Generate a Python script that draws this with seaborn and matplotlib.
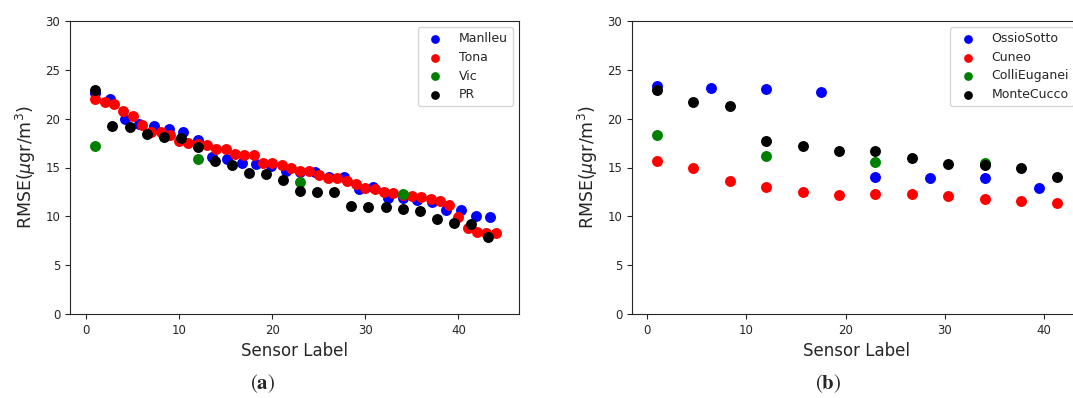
import numpy as np
import pandas as pd
import matplotlib
matplotlib.use("Agg")
import matplotlib.pyplot as plt
import seaborn as sns

# --- panel (a) ---
manlleu_x = [1.0, 2.57, 4.14, 5.71, 7.29, 8.86, 10.43, 12.0, 13.57, 15.14, 16.71, 18.29, 19.86, 21.43,
             23.0, 24.57, 26.14, 27.71, 29.29, 30.86, 32.43, 34.0, 35.57, 37.14, 38.71, 40.29, 41.86, 43.43]
manlleu_y = [22.6, 22.0, 20.0, 19.5, 19.3, 18.9, 18.6, 17.8, 16.1, 15.85, 15.5, 15.35, 15.15, 14.6,
             14.5, 14.5, 14.05, 14.0, 12.8, 13.0, 11.9, 11.85, 11.7, 11.5, 10.65, 10.65, 10.0, 9.9]

tona_x = list(range(1, 45))
tona_y = [22.0, 21.7, 21.5, 20.8, 20.3, 19.4, 18.6, 18.6, 18.3, 17.7, 17.5, 17.4, 17.3, 16.9, 16.9,
          16.35, 16.25, 16.25, 15.5, 15.5, 15.25, 14.9, 14.6, 14.6, 14.2, 13.9, 13.9, 13.6, 13.3, 12.95,
          12.75, 12.5, 12.4, 12.2, 12.1, 12.0, 11.8, 11.55, 11.15, 9.9, 8.8, 8.4, 8.25, 8.25]

vic_x = [1, 12, 23, 34]
vic_y = [17.2, 15.9, 13.5, 12.25]

pr_x = [1.0, 2.83, 4.67, 6.5, 8.33, 10.17, 12.0, 13.83, 15.67, 17.5, 19.33, 21.17, 23.0, 24.83,
        26.67, 28.5, 30.33, 32.17, 34.0, 35.83, 37.67, 39.5, 41.33, 43.17]
pr_y = [22.9, 19.2, 19.1, 18.45, 18.15, 18.0, 17.05, 15.7, 15.25, 14.45, 14.3, 13.75, 12.6, 12.5,
        12.5, 11.1, 11.0, 11.0, 10.7, 10.5, 9.75, 9.3, 9.2, 7.85]

# --- panel (b) ---
ossio_x = [1.0, 6.5, 12.0, 17.5, 23.0, 28.5, 34.0, 39.5]
ossio_y = [23.3, 23.1, 23.0, 22.7, 14.0, 13.9, 13.9, 12.95]

cuneo_x = [1.0, 4.67, 8.33, 12.0, 15.67, 19.33, 23.0, 26.67, 30.33, 34.0, 37.67, 41.33]
cuneo_y = [15.7, 14.9, 13.6, 13.05, 12.5, 12.2, 12.25, 12.25, 12.1, 11.8, 11.6, 11.4]

colli_x = [1, 12, 23, 34]
colli_y = [18.3, 16.2, 15.6, 15.5]

monte_x = [1.0, 4.67, 8.33, 12.0, 15.67, 19.33, 23.0, 26.67, 30.33, 34.0, 37.67, 41.33]
monte_y = [22.9, 21.7, 21.3, 17.75, 17.2, 16.7, 16.65, 15.95, 15.4, 15.3, 15.0, 14.0]

panel_a = [("Manlleu", manlleu_x, manlleu_y, "blue"),
           ("Tona", tona_x, tona_y, "red"),
           ("Vic", vic_x, vic_y, "green"),
           ("PR", pr_x, pr_y, "black")]
panel_b = [("OssioSotto", ossio_x, ossio_y, "blue"),
           ("Cuneo", cuneo_x, cuneo_y, "red"),
           ("ColliEuganei", colli_x, colli_y, "green"),
           ("MonteCucco", monte_x, monte_y, "black")]

sns.set_style("ticks")
plt.rcParams["font.family"] = ["DejaVu Sans"]

W, H = 1073, 398
fig = plt.figure(figsize=(W / 100, H / 100), dpi=100)
ax1 = fig.add_axes([70 / W, 1 - 314 / H, (519 - 70) / W, (314 - 21) / H])
ax2 = fig.add_axes([632 / W, 1 - 314 / H, (1080 - 632) / W, (314 - 21) / H])

for ax, series, xlim in [(ax1, panel_a, (-1.72, 46.5)), (ax2, panel_b, (-1.5, 43.6))]:
    for name, xs, ys, col in series:
        sns.scatterplot(x=xs, y=ys, color=col, label=name, s=62, linewidth=0, ax=ax)
    ax.set_xlim(*xlim)
    ax.set_ylim(0, 30)
    ax.set_xticks([0, 10, 20, 30, 40])
    ax.set_yticks([0, 5, 10, 15, 20, 25, 30])
    ax.tick_params(labelsize=8.5, length=3.5)
    ax.set_xlabel("Sensor Label", fontsize=12)
    ax.set_ylabel(r"RMSE($\mu$gr/m$^3$)", fontsize=12.5, labelpad=5)
    ax.legend(loc="upper right", fontsize=9, markerscale=0.8, borderaxespad=0.5,
              handletextpad=0.9, labelspacing=0.45)

fig.text(263 / W, 1 - 384 / H, r"($\mathbf{a}$)", ha="center", va="center", fontsize=15,
         family="STIXGeneral", math_fontfamily="stix")
fig.text(828 / W, 1 - 384 / H, r"($\mathbf{b}$)", ha="center", va="center", fontsize=15,
         family="STIXGeneral", math_fontfamily="stix")

fig.savefig("out.png", dpi=100)
